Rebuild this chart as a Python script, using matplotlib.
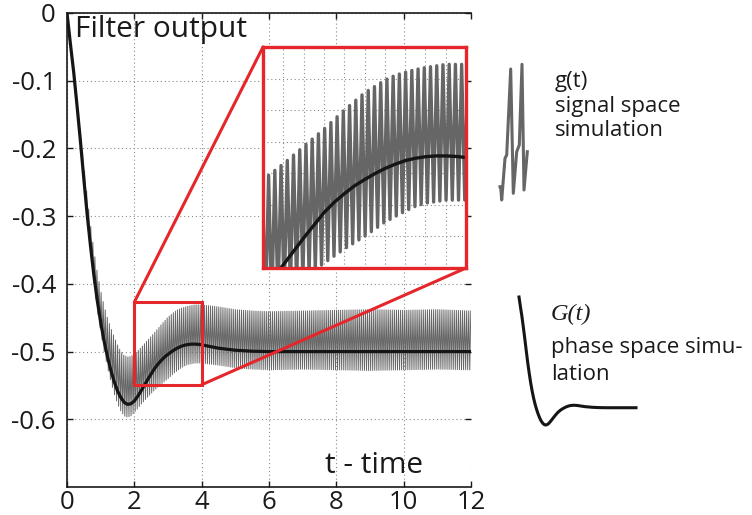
import numpy as np
import matplotlib.pyplot as plt
from matplotlib.patches import Rectangle, ConnectionPatch

plt.rcParams['font.family'] = ['Open Sans', 'DejaVu Sans']

# sample times of the filter response
t = [0, 0.1, 0.2, 0.3, 0.4, 0.5, 0.6, 0.7, 0.8, 0.9, 1.0, 1.1, 1.2, 1.3, 1.4,
     1.5, 1.6, 1.7, 1.8, 1.9, 2.0, 2.1, 2.2, 2.3, 2.4, 2.5, 2.6, 2.7, 2.8, 2.9,
     3.0, 3.1, 3.2, 3.3, 3.4, 3.5, 3.6, 3.7, 3.8, 3.9, 4.0, 4.5, 5.0, 5.5,
     6, 7, 8, 9, 10, 11, 12]

# G(t): phase space simulation (mean output)
G = [0, -0.045, -0.088, -0.138, -0.190, -0.245, -0.298, -0.345, -0.388, -0.425,
     -0.457, -0.484, -0.507, -0.527, -0.544, -0.558, -0.568, -0.575, -0.578,
     -0.577, -0.573, -0.566, -0.558, -0.5495, -0.541, -0.533, -0.525, -0.5185,
     -0.513, -0.508, -0.504, -0.5003, -0.497, -0.4943, -0.492, -0.4905,
     -0.4895, -0.489, -0.489, -0.4893, -0.490, -0.495, -0.498, -0.4995,
     -0.500, -0.500, -0.500, -0.500, -0.500, -0.500, -0.500]

# g(t): signal space simulation, upper / lower swing of the oscillation
g_upper = [0, -0.039, -0.078, -0.124, -0.172, -0.223, -0.271, -0.313, -0.351,
           -0.383, -0.410, -0.432, -0.450, -0.465, -0.478, -0.490, -0.500,
           -0.506, -0.508, -0.507, -0.504, -0.499, -0.494, -0.4885, -0.483,
           -0.4775, -0.472, -0.466, -0.460, -0.4545, -0.449, -0.445, -0.441,
           -0.438, -0.436, -0.4343, -0.433, -0.432, -0.431, -0.431, -0.431,
           -0.434, -0.438, -0.440, -0.441, -0.440, -0.439, -0.438, -0.439,
           -0.438, -0.440]
g_lower = [0, -0.049, -0.094, -0.145, -0.198, -0.254, -0.308, -0.356, -0.400,
           -0.438, -0.471, -0.499, -0.523, -0.544, -0.562, -0.577, -0.588,
           -0.595, -0.597, -0.595, -0.590, -0.584, -0.578, -0.5725, -0.567,
           -0.562, -0.557, -0.5525, -0.548, -0.544, -0.540, -0.5355, -0.531,
           -0.5275, -0.524, -0.521, -0.519, -0.518, -0.517, -0.517, -0.517,
           -0.520, -0.524, -0.526, -0.527, -0.526, -0.527, -0.528, -0.527,
           -0.526, -0.527]
g_cycles_per_unit = 16.3

x_ticks = [0, 2, 4, 6, 8, 10, 12]
x_tick_labels = ['0', '2', '4', '6', '8', '10', '12']
y_ticks = [0, -0.1, -0.2, -0.3, -0.4, -0.5, -0.6]
y_tick_labels = ['0', '-0.1', '-0.2', '-0.3', '-0.4', '-0.5', '-0.6']

# zoomed window
zoom_t = (2, 4)
zoom_box = (-0.549, -0.427)
zoom_ylim = (-0.56, -0.42)

# little g(t) legend squiggle
g_icon_x = [0, 0.7, 1.7, 5, 6.7, 10.7, 13.3, 16.7, 19.3, 22, 24, 27.3]
g_icon_y = [13.3, 13.3, 0, 41.7, 45, 131, 6.7, 48.3, 55, 135.7, 10, 48.3]

W, H = 752, 515
RED = '#e5262b'
GREY = '#666666'
BLACK = '#151515'
INK = '#1a1a1a'


def px(x, y):
    return x / W, 1 - y / H


# zigzag between the two swings
tz = np.arange(0, 12.0001, 0.5 / g_cycles_per_unit)
hi = np.interp(tz, t, g_upper)
lo = np.interp(tz, t, g_lower)
gz = np.where(np.arange(tz.size) % 2 == 0, lo, hi)

fig = plt.figure(figsize=(W / 100, H / 100), dpi=100)

ax = fig.add_axes([67 / W, 28 / H, 404 / W, 474 / H])
ax.plot(tz, gz, color=GREY, lw=0.7)
ax.plot(t, G, color=BLACK, lw=2.3)
ax.set_xlim(0, 12)
ax.set_ylim(-0.7, 0)
ax.set_xticks(x_ticks)
ax.set_xticklabels(x_tick_labels)
ax.set_yticks(y_ticks)
ax.set_yticklabels(y_tick_labels)
ax.grid(True, linestyle=(0, (1, 2.5)), color='#8c8c8c', lw=0.8)
ax.tick_params(direction='in', length=4, width=1, top=True, right=True,
               labelsize=18.5, colors=INK)
ax.tick_params(axis='x', pad=2)
ax.tick_params(axis='y', pad=8)
ax.spines['right'].set_visible(False)
for s in ['left', 'bottom', 'top']:
    ax.spines[s].set_linewidth(1.2)
    ax.spines[s].set_color(INK)

ax.add_patch(Rectangle((zoom_t[0], zoom_box[0]), zoom_t[1] - zoom_t[0],
                       zoom_box[1] - zoom_box[0], fill=False, ec=RED,
                       lw=2.2, zorder=5))

# inset with the zoomed window
axin = fig.add_axes([263 / W, (H - 268) / H, 203 / W, 221 / H])
m = (tz > 1.8) & (tz < 4.2)
axin.plot(tz[m], gz[m], color=GREY, lw=2.4)
axin.plot(t, G, color=BLACK, lw=2.4)
axin.set_xlim(*zoom_t)
axin.set_ylim(*zoom_ylim)
axin.set_xticks(np.arange(2, 4.01, 0.2))
axin.set_yticks(np.arange(-0.56, -0.419, 0.02))
axin.grid(True, linestyle=(0, (1, 2.5)), color='#8c8c8c', lw=0.8)
axin.tick_params(length=0, labelbottom=False, labelleft=False)
for s in axin.spines.values():
    s.set_color(RED)
    s.set_linewidth(2.4)

for xa, xb in [((zoom_t[0], zoom_box[1]), (0, 1)), ((zoom_t[1], zoom_box[0]), (1, 0))]:
    con = ConnectionPatch(xyA=xa, coordsA=ax.transData, xyB=xb,
                          coordsB=axin.transAxes, color=RED, lw=2.2)
    fig.add_artist(con)

fig.text(*px(75, 37), 'Filter output', fontsize=21.5, color=INK, va='baseline')
fig.text(*px(325, 473), 't - time', fontsize=21.5, color=INK, va='baseline')

# legend: g(t)
axg = fig.add_axes([500 / W, (H - 200) / H, 28 / W, 136 / H])
axg.plot(g_icon_x, g_icon_y, color=GREY, lw=2.2, clip_on=False)
axg.set_xlim(0, 28)
axg.set_ylim(0, 136)
axg.axis('off')
fig.text(*px(555, 87), 'g(t)', fontsize=16, color=INK, va='baseline')
fig.text(*px(555, 112), 'signal space', fontsize=16, color=INK, va='baseline')
fig.text(*px(555, 136), 'simulation', fontsize=16, color=INK, va='baseline')

# legend: G(t)
axG = fig.add_axes([519 / W, (H - 425) / H, 117 / W, 128 / H])
tt = np.array(t)
axG.plot(tt[tt <= 8], np.array(G)[tt <= 8], color=BLACK, lw=2.2, clip_on=False)
axG.set_xlim(0, 8)
axG.set_ylim(min(G), 0)
axG.axis('off')
fig.text(*px(551, 320), 'G(t)', fontsize=17.5, family=['Liberation Serif'],
         style='italic', color=INK, va='baseline')
fig.text(*px(551, 353), 'phase space simu-', fontsize=16, color=INK, va='baseline')
fig.text(*px(551, 380), 'lation', fontsize=16, color=INK, va='baseline')

fig.savefig('out.png', dpi=100)
